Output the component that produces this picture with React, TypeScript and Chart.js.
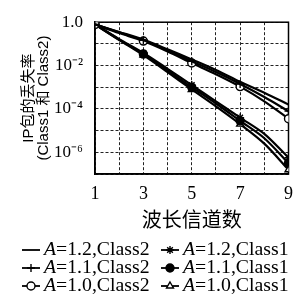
import React, { useEffect, useRef } from 'react';
import { Chart, registerables } from 'chart.js';
import { drawPoint } from 'chart.js/helpers';

Chart.register(...registerables);

const CHANNELS = [1, 2, 3, 4, 5, 6, 7, 8, 9];
const X_TICK_LABELS = ['1', '', '3', '', '5', '', '7', '', '9'];
const Y_TICKS = [1e-7, 1e-6, 1e-5, 1e-4, 1e-3, 1e-2, 1e-1, 1];
const Y_TICK_LABELS = ['', '10⁻⁶', '', '10⁻⁴', '', '10⁻²', '', '1.0'];

const CLASS2_A12 = [0.79, 0.355, 0.158, 0.0562, 0.0191, 0.00631, 0.00178, 5.62e-4, 1.58e-4];
const CLASS2_A11 = [0.79, 0.339, 0.148, 0.0501, 0.0158, 0.00501, 0.00141, 3.55e-4, 7.9e-5];
const CLASS2_A10 = [0.79, 0.316, 0.135, 0.0447, 0.0132, 0.00398, 0.00107, 2.24e-4, 3.55e-5];
const CLASS1_A12 = [0.79, 0.166, 0.038, 0.00708, 0.00126, 2.24e-4, 3.98e-5, 7.08e-6, 5.62e-7];
const CLASS1_A11 = [0.79, 0.158, 0.0339, 0.00603, 0.001, 1.78e-4, 2.82e-5, 4.47e-6, 3.16e-7];
const CLASS1_A10 = [0.79, 0.151, 0.0302, 0.00501, 7.94e-4, 1.32e-4, 2.0e-5, 2.51e-6, 1.58e-7];

const SERIES_A = ['1.2', '1.1', '1.0', '1.2', '1.1', '1.0'];
const SERIES_CLASS = ['Class2', 'Class2', 'Class2', 'Class1', 'Class1', 'Class1'];

const X_TITLE = '波长信道数';
const Y_TITLE = ['IP包的丢失率', '(Class1 和 Class2)'];

const SERIF = '"Liberation Serif", "Times New Roman", "Noto Sans CJK SC", serif';
const SANS = '"Liberation Sans", Arial, "Noto Sans CJK SC", sans-serif';

const W = 302;
const H = 299;

const legendPlugin = {
  id: 'customLegend',
  afterDraw(chart: any) {
    const ctx = chart.ctx;
    const colX = [22, 161];
    const rowY = [250, 268, 286];
    ctx.save();
    chart.data.datasets.forEach((ds: any, i: number) => {
      const col = i < 3 ? 0 : 1;
      const row = i % 3;
      const x = colX[col];
      const y = rowY[row];
      ctx.strokeStyle = '#000';
      ctx.lineWidth = 1.8;
      ctx.setLineDash([]);
      ctx.beginPath();
      ctx.moveTo(x, y);
      ctx.lineTo(x + 18, y);
      ctx.stroke();
      if (ds.legendPoint) {
        ctx.fillStyle = ds.pointBackgroundColor;
        ctx.strokeStyle = '#000';
        ctx.lineWidth = 1.4;
        drawPoint(ctx, { pointStyle: ds.pointStyle, radius: 4, rotation: 0, borderWidth: 1.4 }, x + 9, y);
      }
      ctx.save();
      const tx = x + 22;
      ctx.translate(tx, y);
      ctx.scale(1.04, 1);
      ctx.fillStyle = '#000';
      ctx.textBaseline = 'middle';
      ctx.textAlign = 'left';
      ctx.font = `italic 19px ${SERIF}`;
      ctx.fillText('A', 0, 0);
      const aw = ctx.measureText('A').width;
      ctx.font = `19px ${SERIF}`;
      ctx.fillText(`=${SERIES_A[i]},${SERIES_CLASS[i]}`, aw, 0);
      ctx.restore();
    });
    ctx.restore();
  },
};

const boxPlugin = {
  id: 'plotBox',
  beforeDraw(c: any) {
    const g = c.ctx;
    g.save();
    g.fillStyle = '#fff';
    g.fillRect(0, 0, c.width, c.height);
    g.restore();
  },
  beforeDatasetsDraw(c: any) {
    const { left, top, right, bottom } = c.chartArea;
    const g = c.ctx;
    g.save();
    g.setLineDash([]);
    g.strokeStyle = '#000';
    g.lineWidth = 1.5;
    g.strokeRect(left, top, right - left, bottom - top);
    g.restore();
  },
};

function makeDataset(label: string, data: number[], pointStyle: any, fill: string, showPoints: boolean) {
  return {
    label,
    data,
    borderColor: '#000',
    borderWidth: 2.2,
    backgroundColor: fill,
    pointStyle,
    pointBackgroundColor: fill,
    pointBorderColor: '#000',
    pointBorderWidth: 1.4,
    pointRadius: (c: any) => (showPoints && c.dataIndex % 2 === 0 ? 4 : 0),
    legendPoint: showPoints,
    tension: 0.3,
    fill: false,
  };
}

export default function App() {
  const ref = useRef<HTMLCanvasElement | null>(null);

  useEffect(() => {
    if (!ref.current) return;
    const chart = new Chart(ref.current, {
      type: 'line',
      data: {
        labels: CHANNELS,
        datasets: [
          makeDataset('A=1.2,Class2', CLASS2_A12, 'circle', '#000', false),
          makeDataset('A=1.1,Class2', CLASS2_A11, 'cross', '#000', true),
          makeDataset('A=1.0,Class2', CLASS2_A10, 'circle', '#fff', true),
          makeDataset('A=1.2,Class1', CLASS1_A12, 'star', '#000', true),
          makeDataset('A=1.1,Class1', CLASS1_A11, 'circle', '#000', true),
          makeDataset('A=1.0,Class1', CLASS1_A10, 'triangle', '#fff', true),
        ] as any,
      },
      options: {
        animation: false,
        responsive: false,
        devicePixelRatio: 1,
        layout: { padding: { top: 18, right: 11, left: 0, bottom: H - 174 - 60 } },
        plugins: {
          legend: { display: false },
          tooltip: { enabled: false },
          title: { display: false },
        },
        scales: {
          x: {
            type: 'linear',
            min: 1,
            max: 9,
            afterFit: (s: any) => {
              s.height = 60;
            },
            ticks: {
              stepSize: 1,
              autoSkip: false,
              maxRotation: 0,
              padding: 9,
              color: '#000',
              font: { family: SERIF, size: 18 },
              callback: (v: any, i: number) => X_TICK_LABELS[i] ?? '',
            },
            grid: {
              color: '#222',
              lineWidth: 1,
              drawTicks: false,
            },
            border: { display: true, color: '#000', width: 1.5, dash: [3, 2] },
            title: {
              display: true,
              text: X_TITLE,
              color: '#000',
              font: { family: SERIF, size: 20 },
              padding: { top: 0, bottom: 0 },
            },
          },
          y: {
            type: 'logarithmic',
            min: 1e-7,
            max: 1,
            afterFit: (s: any) => {
              s.width = 95;
            },
            afterBuildTicks: (s: any) => {
              s.ticks = Y_TICKS.map((value) => ({ value }));
            },
            ticks: {
              autoSkip: false,
              padding: 12,
              color: '#000',
              font: { family: SERIF, size: 17 },
              callback: (v: any, i: number) => Y_TICK_LABELS[i] ?? '',
            },
            grid: {
              color: '#222',
              lineWidth: 1,
              drawTicks: false,
            },
            border: { display: true, color: '#000', width: 1.5, dash: [3, 2] },
            title: {
              display: true,
              text: Y_TITLE,
              color: '#000',
              font: { family: SANS, size: 15, lineHeight: 1 },
              padding: { top: 21, bottom: 0 },
            },
          },
        },
      } as any,
      plugins: [legendPlugin, boxPlugin],
    });
    return () => chart.destroy();
  }, []);

  return (
    <div style={{ position: 'fixed', left: 0, top: 0, width: W, height: H, background: '#fff' }}>
      <canvas ref={ref} width={W} height={H} style={{ width: W, height: H, display: 'block' }} />
    </div>
  );
}
